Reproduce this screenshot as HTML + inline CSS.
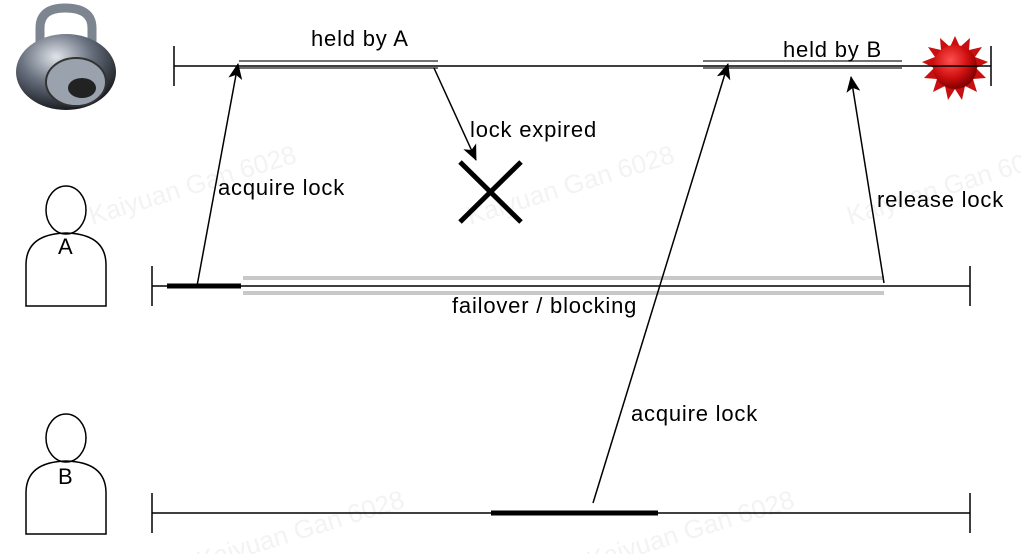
<!DOCTYPE html>
<html><head><meta charset="utf-8"><style>
html,body{margin:0;padding:0;background:#fff;}
svg{display:block;}
text{font-family:"Liberation Sans",Arial,sans-serif;font-size:22px;letter-spacing:0.8px;fill:#000;}
.wm{font-size:26px;fill:#f3f3f3;letter-spacing:0;}
</style></head><body>
<svg width="1021" height="554" viewBox="0 0 1021 554">
<defs>
<marker id="ah" markerWidth="16" markerHeight="14" refX="15" refY="7" orient="auto" markerUnits="userSpaceOnUse">
<path d="M0,0 L16,7 L0,14 L4,7 Z" fill="#000"/></marker>
<radialGradient id="red" cx="40%" cy="35%" r="65%"><stop offset="0" stop-color="#ff5050"/><stop offset="0.6" stop-color="#d01010"/><stop offset="1" stop-color="#800000"/></radialGradient>
<radialGradient id="steel" cx="40%" cy="30%" r="70%"><stop offset="0" stop-color="#e0e4ea"/><stop offset="0.5" stop-color="#6a7280"/><stop offset="1" stop-color="#1a1d22"/></radialGradient>
</defs>
<g>
<text class="wm" x="92" y="225" transform="rotate(-17 92 225)">Kaiyuan Gan 6028</text>
<text class="wm" x="470" y="225" transform="rotate(-17 470 225)">Kaiyuan Gan 6028</text>
<text class="wm" x="850" y="225" transform="rotate(-17 850 225)">Kaiyuan Gan 6028</text>
<text class="wm" x="200" y="570" transform="rotate(-17 200 570)">Kaiyuan Gan 6028</text>
<text class="wm" x="590" y="570" transform="rotate(-17 590 570)">Kaiyuan Gan 6028</text>
</g>
<g>
<path d="M40,45 L40,28 Q40,8 65,8 Q92,8 92,28 L92,45" fill="none" stroke="#7d8590" stroke-width="9"/>
<ellipse cx="66" cy="72" rx="50" ry="38" fill="url(#steel)"/>
<ellipse cx="76" cy="82" rx="30" ry="24" fill="#9aa2ae" stroke="#333" stroke-width="2"/>
<ellipse cx="82" cy="88" rx="14" ry="10" fill="#222"/>
</g>
<g>
<polygon fill="#c81010" points="955,36 960,47 970,38 969,50 982,47 975,57 988,62 976,68 986,78 973,79 977,92 965,86 962,100 955,89 948,100 945,86 933,92 937,79 924,78 934,68 922,62 935,57 928,47 941,50 940,38 950,47"/>
<circle cx="955" cy="67" r="22" fill="url(#red)"/>
</g>
<g>
<line x1="174" y1="66" x2="991" y2="66" stroke="#000" stroke-width="1.5"/>
<line x1="174" y1="46" x2="174" y2="86" stroke="#000" stroke-width="1.5"/>
<line x1="991" y1="46" x2="991" y2="86" stroke="#000" stroke-width="1.5"/>
<line x1="239" y1="61" x2="438" y2="61" stroke="#444" stroke-width="1.5"/>
<line x1="239" y1="68" x2="438" y2="68" stroke="#444" stroke-width="1.5"/>
<line x1="703" y1="61" x2="902" y2="61" stroke="#444" stroke-width="1.5"/>
<line x1="703" y1="68" x2="902" y2="68" stroke="#444" stroke-width="1.5"/>
<text x="311" y="46">held by A</text>
<text x="783" y="57">held by B</text>
</g>
<g fill="none" stroke="#000" stroke-width="1.5">
<ellipse cx="66" cy="210" rx="20" ry="24"/>
<path d="M26,306 L26,265 Q26,234 66,233 Q106,234 106,265 L106,306 Z"/>
</g>
<text x="58" y="254">A</text>
<g>
<rect x="243" y="276" width="641" height="4" fill="#c8c8c8"/>
<rect x="243" y="291" width="641" height="4" fill="#c8c8c8"/>
<line x1="152" y1="286" x2="970" y2="286" stroke="#000" stroke-width="1.5"/>
<line x1="152" y1="266" x2="152" y2="306" stroke="#000" stroke-width="1.5"/>
<line x1="970" y1="266" x2="970" y2="306" stroke="#000" stroke-width="1.5"/>
<line x1="167" y1="286" x2="241" y2="286" stroke="#000" stroke-width="5"/>
</g>
<text x="452" y="313">failover / blocking</text>
<g fill="none" stroke="#000" stroke-width="1.5">
<ellipse cx="66" cy="438" rx="20" ry="24"/>
<path d="M26,534 L26,493 Q26,462 66,461 Q106,462 106,493 L106,534 Z"/>
</g>
<text x="58" y="484">B</text>
<g>
<line x1="152" y1="513" x2="970" y2="513" stroke="#000" stroke-width="1.5"/>
<line x1="152" y1="493" x2="152" y2="533" stroke="#000" stroke-width="1.5"/>
<line x1="970" y1="493" x2="970" y2="533" stroke="#000" stroke-width="1.5"/>
<line x1="491" y1="513" x2="658" y2="513" stroke="#000" stroke-width="5"/>
</g>
<line x1="197" y1="286" x2="238" y2="64" stroke="#000" stroke-width="1.5" marker-end="url(#ah)"/>
<text x="218" y="195">acquire lock</text>
<line x1="434" y1="68" x2="476" y2="160" stroke="#000" stroke-width="1.5" marker-end="url(#ah)"/>
<text x="470" y="137">lock expired</text>
<g stroke="#000" stroke-width="5">
<line x1="460" y1="162" x2="521" y2="222"/><line x1="521" y1="162" x2="460" y2="222"/>
</g>
<line x1="593" y1="503" x2="728" y2="64" stroke="#000" stroke-width="1.5" marker-end="url(#ah)"/>
<text x="631" y="421">acquire lock</text>
<line x1="884" y1="283" x2="851" y2="77" stroke="#000" stroke-width="1.5" marker-end="url(#ah)"/>
<text x="877" y="207">release lock</text>
</svg>
</body></html>
